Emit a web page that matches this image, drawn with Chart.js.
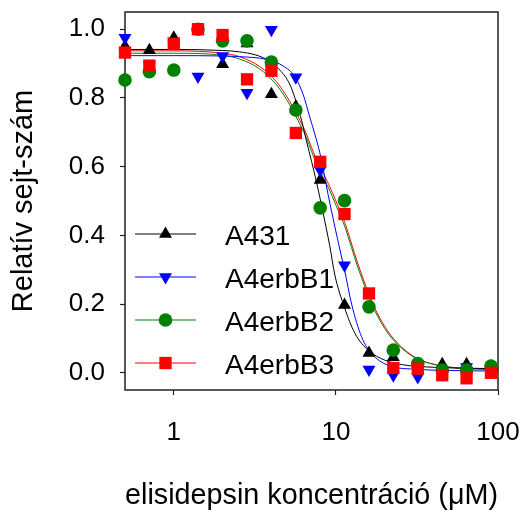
<!DOCTYPE html>
<html lang="hu">
<head>
<meta charset="UTF-8">
<title>Elisidepsin dózis-hatás</title>
<script src="https://cdn.jsdelivr.net/npm/chart.js"></script>
<style>
  html, body { margin: 0; padding: 0; background: #fff; }
  #wrap { width: 524px; height: 510px; }
</style>
</head>
<body>
<div id="wrap"><canvas id="doseChart" width="524" height="510"></canvas></div>
<script>
// mért pontok: koncentráció (µM) és relatív sejtszám
const doses = [0.5, 0.707, 1, 1.41, 2, 2.83, 4, 5.66, 8, 11.3, 16, 22.6, 32, 45.3, 64, 90.5];
const a431    = [0.95, 0.939, 0.975, 0.995, 0.898, 0.958, 0.811, 0.775, 0.561, 0.197, 0.058, 0.045, 0.025, 0.025, 0.025, 0.018];
const a4erbB1 = [0.975, 0.895, 0.965, 0.862, 0.922, 0.815, 0.998, 0.86, 0.59, 0.313, 0.01, -0.007, -0.012, -0.005, 0.017, 0.005];
const a4erbB2 = [0.852, 0.876, 0.881, 1.0, 0.966, 0.966, 0.904, 0.765, 0.48, 0.501, 0.192, 0.066, 0.027, 0.008, 0.008, 0.02];
const a4erbB3 = [0.932, 0.894, 0.957, 1.0, 0.983, 0.854, 0.879, 0.698, 0.614, 0.462, 0.231, 0.014, 0.012, -0.007, -0.016, 0.0];

// illesztett görbék pontjai
const fitA431X = [0.5, 1, 2, 2.55, 3.2, 3.73, 4.51, 5.19, 5.72, 6.14, 6.58, 7.08, 7.59, 8.34, 9.16, 9.85, 11.3, 13.1, 15.8, 20, 25.4, 40.7, 100];
const fitA431Y = [0.941, 0.941, 0.938, 0.934, 0.925, 0.912, 0.881, 0.84, 0.785, 0.735, 0.675, 0.615, 0.555, 0.465, 0.37, 0.285, 0.19, 0.115, 0.066, 0.037, 0.024, 0.016, 0.012];
const fitB1X = [0.5, 1, 2, 2.55, 3.73, 4.73, 5.58, 6.28, 6.89, 7.41, 7.96, 8.34, 8.94, 9.65, 10.8, 11.3, 12.5, 14.4, 16.6, 21, 32.2, 47, 100];
const fitB1Y = [0.923, 0.923, 0.922, 0.92, 0.912, 0.893, 0.862, 0.81, 0.745, 0.695, 0.64, 0.595, 0.52, 0.445, 0.34, 0.30, 0.2, 0.105, 0.056, 0.022, 0.01, 0.007, 0.005];
const fitB23X = [0.5, 1, 2, 2.55, 3.39, 4.3, 5.19, 5.99, 6.58, 7.08, 7.96, 9, 10, 11.3, 12.5, 13.5, 14.7, 15.8, 17.5, 20, 22.6, 25.4, 28.6, 32.2, 40.7, 47, 64, 100];
const fitB2Y = [0.930, 0.930, 0.924, 0.913, 0.884, 0.838, 0.78, 0.724, 0.684, 0.644, 0.588, 0.538, 0.488, 0.428, 0.364, 0.314, 0.265, 0.226, 0.178, 0.129, 0.096, 0.072, 0.053, 0.039, 0.024, 0.018, 0.013, 0.011];
const fitB3Y = [0.937, 0.937, 0.93, 0.92, 0.891, 0.847, 0.79, 0.735, 0.695, 0.655, 0.60, 0.55, 0.50, 0.44, 0.375, 0.325, 0.275, 0.235, 0.185, 0.135, 0.10, 0.075, 0.055, 0.04, 0.024, 0.018, 0.012, 0.009];

const xTicks = [1, 10, 100];
const yTicks = [0, 0.2, 0.4, 0.6, 0.8, 1.0];

const FONT = "'Liberation Sans', Arial, sans-serif";

const series = [
  { name: 'A431',    y: a431,    fx: fitA431X, fy: fitA431Y, color: '#000000', style: 'triangle', radius: 7.5, rot: 0 },
  { name: 'A4erbB1', y: a4erbB1, fx: fitB1X,   fy: fitB1Y,   color: '#0000ff', style: 'triangle', radius: 7.5, rot: 180 },
  { name: 'A4erbB2', y: a4erbB2, fx: fitB23X,  fy: fitB2Y,   color: '#008000', style: 'circle',   radius: 6.8, rot: 0 },
  { name: 'A4erbB3', y: a4erbB3, fx: fitB23X,  fy: fitB3Y,   color: '#ff0000', style: 'rect',     radius: 8.7, rot: 0 }
];

const pairs = (xs, ys) => xs.map((x, i) => ({ x: x, y: ys[i] }));

const datasets = [];
series.forEach((s, i) => {
  datasets.push({
    label: s.name + ' fit',
    data: pairs(s.fx, s.fy),
    showLine: true,
    borderColor: s.color,
    borderWidth: 1,
    pointRadius: 0,
    cubicInterpolationMode: 'monotone',
    clip: false,
    order: 10 + i
  });
});
series.forEach((s, i) => {
  datasets.push({
    label: s.name,
    data: pairs(doses, s.y),
    showLine: false,
    pointStyle: s.style,
    pointRadius: s.radius,
    pointRotation: s.rot,
    pointBackgroundColor: s.color,
    pointBorderColor: s.color,
    pointBorderWidth: 0,
    clip: false,
    order: 3 - i
  });
});

// keret a rajzterület körül
const framePlugin = {
  id: 'frame',
  beforeDatasetsDraw(chart) {
    const { ctx, chartArea: a } = chart;
    ctx.save();
    ctx.strokeStyle = '#222';
    ctx.lineWidth = 1.5;
    ctx.strokeRect(a.left, a.top, a.right - a.left, a.bottom - a.top);
    ctx.restore();
  }
};

// jelmagyarázat: vonal + jelölő + felirat
const legendPlugin = {
  id: 'lineLegend',
  afterDatasetsDraw(chart) {
    const { ctx, chartArea: a } = chart;
    ctx.save();
    ctx.font = '28px ' + FONT;
    ctx.textBaseline = 'alphabetic';
    ctx.textAlign = 'left';
    series.forEach((s, i) => {
      const y = a.top + 222 + i * 43;
      const x0 = a.left + 10;
      ctx.strokeStyle = s.color;
      ctx.lineWidth = 1;
      ctx.beginPath();
      ctx.moveTo(x0, y);
      ctx.lineTo(x0 + 61, y);
      ctx.stroke();
      ctx.fillStyle = s.color;
      ctx.strokeStyle = s.color;
      Chart.helpers.drawPoint(ctx, { pointStyle: s.style, radius: s.radius, rotation: s.rot, borderWidth: 0 }, x0 + 30.5, y);
      ctx.fillStyle = '#000';
      ctx.fillText(s.name, a.left + 100, y + 10.5);
    });
    ctx.restore();
  }
};

new Chart(document.getElementById('doseChart'), {
  type: 'scatter',
  data: { datasets: datasets },
  plugins: [framePlugin, legendPlugin],
  options: {
    responsive: false,
    animation: false,
    devicePixelRatio: 1,
    layout: { padding: { left: 5, right: 26, top: 12, bottom: 0 } },
    plugins: { legend: { display: false }, tooltip: { enabled: false } },
    scales: {
      x: {
        type: 'logarithmic',
        min: 0.5,
        max: 100,
        afterBuildTicks: (scale) => { scale.ticks = xTicks.map(v => ({ value: v })); },
        afterFit: (scale) => {
          scale.height = 120;
          scale.paddingLeft = 0;
          scale.paddingRight = 0;
        },
        border: { display: false },
        grid: { drawOnChartArea: false, drawTicks: true, tickLength: 5, tickColor: '#222', tickWidth: 1.2 },
        ticks: {
          autoSkip: false,
          maxRotation: 0,
          padding: 22,
          color: '#000',
          font: { family: FONT, size: 26 },
          callback: (v) => String(v)
        },
        title: {
          display: true,
          text: 'elisidepsin koncentráció (μM)',
          color: '#000',
          font: { family: FONT, size: 29, lineHeight: 1 },
          padding: { top: 0, bottom: 0 }
        }
      },
      y: {
        min: -0.05,
        max: 1.05,
        afterBuildTicks: (scale) => { scale.ticks = yTicks.map(v => ({ value: v })); },
        afterFit: (scale) => {
          scale.width = 120;
          scale.paddingTop = 0;
          scale.paddingBottom = 0;
        },
        border: { display: false },
        grid: { drawOnChartArea: false, drawTicks: true, tickLength: 5, tickColor: '#222', tickWidth: 1.2 },
        ticks: {
          autoSkip: false,
          padding: 15,
          color: '#000',
          font: { family: FONT, size: 26 },
          callback: (v) => Number(v).toFixed(1)
        },
        title: {
          display: true,
          text: 'Relatív sejt-szám',
          color: '#000',
          font: { family: FONT, size: 29, lineHeight: 1.2 },
          padding: { top: 2, bottom: 0 }
        }
      }
    }
  }
});
</script>
</body>
</html>
